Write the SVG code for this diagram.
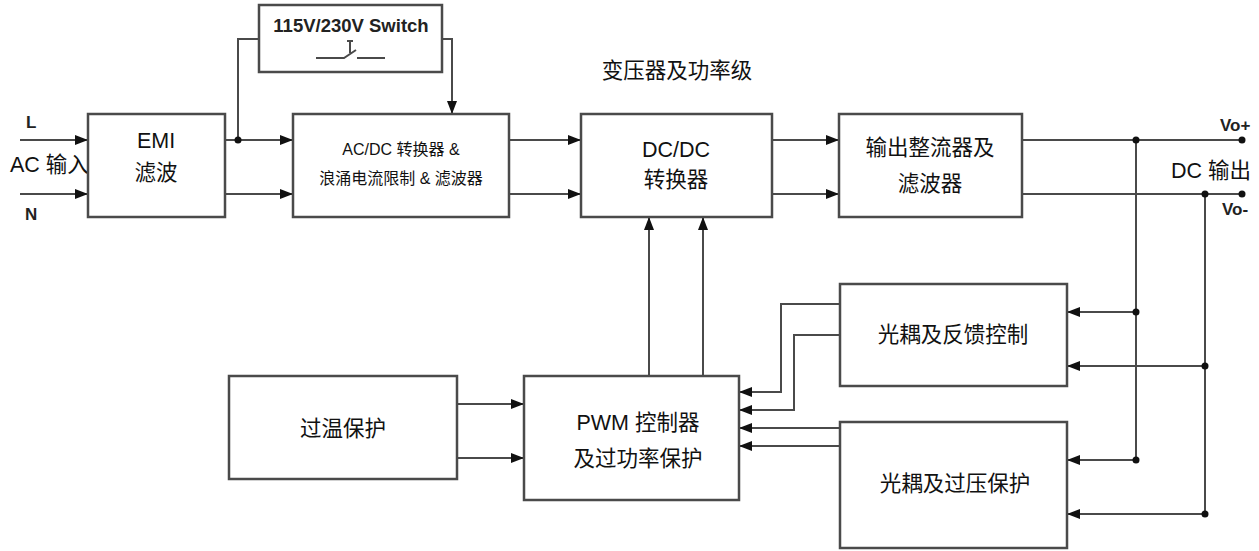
<svg xmlns="http://www.w3.org/2000/svg" width="1259" height="551" viewBox="0 0 1259 551">
<style>
.box{fill:#fff;stroke:#4a4a4a;stroke-width:2.5}
.ln{fill:none;stroke:#4a4a4a;stroke-width:2}
.dot{fill:#111}
.t{font-family:"Liberation Sans","Noto Sans CJK SC",sans-serif;font-size:21.5px;fill:#111}
.s{font-size:16px}
.b{font-family:"Liberation Sans","Noto Sans CJK SC",sans-serif;font-weight:bold;fill:#222}
.m{text-anchor:middle}
</style>
<defs>
<marker id="ah" viewBox="0 0 13 10" refX="13" refY="5" markerWidth="13" markerHeight="10" markerUnits="userSpaceOnUse" orient="auto">
<path d="M0,0 L13,5 L0,10 z" fill="#111"/>
</marker>
</defs>
<rect width="1259" height="551" fill="#fff"/>

<g id="connectors">
<path class="ln" d="M20,140 H88" marker-end="url(#ah)"/>
<path class="ln" d="M20,194 H88" marker-end="url(#ah)"/>
<path class="ln" d="M225,140 H293" marker-end="url(#ah)"/>
<path class="ln" d="M225,194 H293" marker-end="url(#ah)"/>
<path class="ln" d="M238,140 V39 H259"/>
<path class="ln" d="M442,39 H452 V114" marker-end="url(#ah)"/>
<path class="ln" d="M509,140 H581" marker-end="url(#ah)"/>
<path class="ln" d="M509,194 H581" marker-end="url(#ah)"/>
<path class="ln" d="M772,140 H839" marker-end="url(#ah)"/>
<path class="ln" d="M772,194 H839" marker-end="url(#ah)"/>
<path class="ln" d="M1022,140 H1242"/>
<path class="ln" d="M1022,194 H1242"/>
<path class="ln" d="M1136,140 V460"/>
<path class="ln" d="M1205,194 V514"/>
<path class="ln" d="M1136,312 H1067" marker-end="url(#ah)"/>
<path class="ln" d="M1205,366 H1067" marker-end="url(#ah)"/>
<path class="ln" d="M1136,460 H1067" marker-end="url(#ah)"/>
<path class="ln" d="M1205,514 H1067" marker-end="url(#ah)"/>
<path class="ln" d="M840,304 H781 V392 H739" marker-end="url(#ah)"/>
<path class="ln" d="M840,335 H794 V410 H739" marker-end="url(#ah)"/>
<path class="ln" d="M840,428 H739" marker-end="url(#ah)"/>
<path class="ln" d="M840,446 H739" marker-end="url(#ah)"/>
<path class="ln" d="M649,376 V217" marker-end="url(#ah)"/>
<path class="ln" d="M703,376 V217" marker-end="url(#ah)"/>
<path class="ln" d="M457,404 H524" marker-end="url(#ah)"/>
<path class="ln" d="M457,458 H524" marker-end="url(#ah)"/>
<circle class="dot" cx="238" cy="140" r="3.5"/>
<circle class="dot" cx="1136" cy="140" r="3.5"/>
<circle class="dot" cx="1205" cy="194" r="3.5"/>
<circle class="dot" cx="1242" cy="140" r="3.5"/>
<circle class="dot" cx="1242" cy="194" r="3.5"/>
<circle class="dot" cx="1136" cy="312" r="3.5"/>
<circle class="dot" cx="1205" cy="366" r="3.5"/>
<circle class="dot" cx="1136" cy="460" r="3.5"/>
<circle class="dot" cx="1205" cy="514" r="3.5"/>
</g>

<g id="labels">
<text class="b" x="26" y="128" font-size="17">L</text>
<text class="b" x="25" y="220" font-size="17">N</text>
<text class="t" x="10" y="172">AC 输入</text>
<text class="t m" x="677" y="78">变压器及功率级</text>
<text class="b" x="1220" y="131" font-size="17">Vo+</text>
<text class="t" x="1171" y="178">DC 输出</text>
<text class="b" x="1222" y="215" font-size="17">Vo-</text>
</g>

<g id="switch">
<rect class="box" x="259" y="5" width="183" height="67"/>
<text class="b m" x="351" y="32" font-size="18.5">115V/230V Switch</text>
<path class="ln" d="M316,58 H344 L356,50 M357,58 H385 M350,41 V53 M347,41 H353" stroke="#666"/>
</g>

<g id="emi">
<rect class="box" x="88" y="114" width="137" height="103"/>
<text class="t m" x="156" y="148">EMI</text>
<text class="t m" x="156" y="180">滤波</text>
</g>

<g id="acdc">
<rect class="box" x="293" y="114" width="216" height="103"/>
<text class="t s m" x="401" y="155">AC/DC 转换器 &amp;</text>
<text class="t s m" x="401" y="184">浪涌电流限制 &amp; 滤波器</text>
</g>

<g id="dcdc">
<rect class="box" x="581" y="114" width="191" height="103"/>
<text class="t m" x="676" y="157">DC/DC</text>
<text class="t m" x="676" y="187">转换器</text>
</g>

<g id="rect">
<rect class="box" x="839" y="114" width="183" height="103"/>
<text class="t m" x="930" y="155">输出整流器及</text>
<text class="t m" x="930" y="191">滤波器</text>
</g>

<g id="feedback">
<rect class="box" x="840" y="284" width="227" height="102"/>
<text class="t m" x="953" y="342">光耦及反馈控制</text>
</g>

<g id="ovp">
<rect class="box" x="840" y="422" width="227" height="126"/>
<text class="t m" x="955" y="491">光耦及过压保护</text>
</g>

<g id="pwm">
<rect class="box" x="524" y="376" width="215" height="124"/>
<text class="t m" x="638" y="430">PWM 控制器</text>
<text class="t m" x="638" y="466">及过功率保护</text>
</g>

<g id="otp">
<rect class="box" x="229" y="376" width="228" height="103"/>
<text class="t m" x="343" y="436">过温保护</text>
</g>
</svg>
